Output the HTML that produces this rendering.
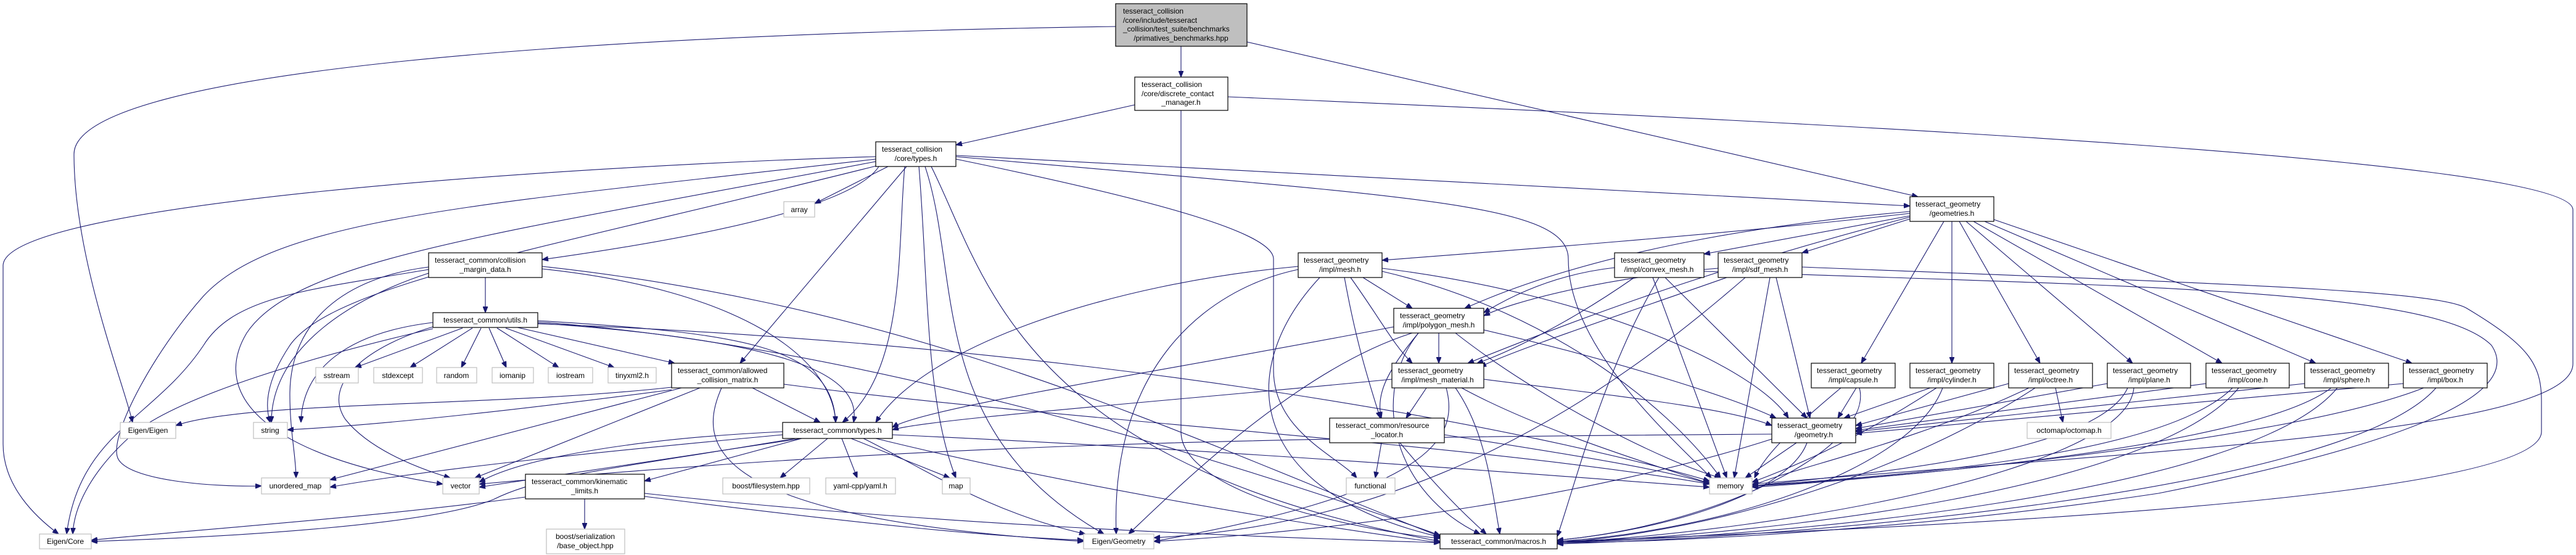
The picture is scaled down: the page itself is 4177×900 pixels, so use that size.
<!DOCTYPE html>
<html><head><meta charset="utf-8"><style>
html,body{margin:0;padding:0;background:#fff;}
svg{display:block;}
text{font-family:"Liberation Sans",Arial,sans-serif;font-size:12px;fill:#000;}
.e{fill:none;stroke:#191970;stroke-width:1.1;marker-end:url(#a);}
.n{fill:#fff;stroke:#000;stroke-width:1.2;}
.g{fill:#fff;stroke:#bfbfbf;stroke-width:1.2;}
</style></head><body>
<svg width="4177" height="900" viewBox="0 0 4177 900" xmlns="http://www.w3.org/2000/svg">
<defs><marker id="a" markerWidth="10" markerHeight="8" refX="10" refY="4" orient="auto" markerUnits="userSpaceOnUse"><path d="M0,0 L10,4 L0,8 z" fill="#191970" stroke="#191970"/></marker></defs>
<g>
<path class="e" d="M1915,75 L1915,125"/>
<path class="e" d="M1809,43 C1000,55 120,110 120,250 C120,420 200,620 215,685"/>
<path class="e" d="M2022,68 L3110,319"/>
<path class="e" d="M1840,170 L1550,235"/>
<path class="e" d="M1915,179 L1915,700 C1915,800 2200,860 2335,873"/>
<path class="e" d="M1991,157 C3000,200 4172,260 4172,340 L4172,590 C4172,700 3500,730 2841,785"/>
<path class="e" d="M1440,270 L1321,330"/>
<path class="e" d="M1425,270 C1380,340 1100,390 879,421"/>
<path class="e" d="M1420,254 C900,270 10,330 5,430 L5,720 C5,790 60,840 95,866"/>
<path class="e" d="M1420,258 C800,330 450,350 330,480 C250,570 180,700 190,740 C200,780 350,790 424,788"/>
<path class="e" d="M1420,262 C800,380 480,420 400,540 C340,640 430,740 718,785"/>
<path class="e" d="M1425,268 C900,400 540,460 470,560 C430,620 430,660 438,685"/>
<path class="e" d="M1470,270 L1200,589"/>
<path class="e" d="M1467,270 C1455,400 1470,600 1366,685"/>
<path class="e" d="M1490,270 C1505,450 1500,650 1550,775"/>
<path class="e" d="M1500,270 C1560,450 1500,700 1790,866"/>
<path class="e" d="M1510,270 C1600,450 1650,750 2335,878"/>
<path class="e" d="M1550,258 C1900,330 2065,380 2065,420 L2065,600 C2065,700 2170,740 2200,775"/>
<path class="e" d="M1550,254 C2300,320 2543,330 2543,420 C2543,560 2700,700 2775,775"/>
<path class="e" d="M1550,252 L3097,334"/>
<path class="e" d="M787,450 L787,507"/>
<path class="e" d="M695,443 C580,480 440,560 440,685"/>
<path class="e" d="M695,433 C560,450 470,520 470,640 C470,700 480,740 480,775"/>
<path class="e" d="M695,437 C500,470 380,480 330,560 C250,680 130,700 108,866"/>
<path class="e" d="M879,436 C1200,470 1350,580 1355,685"/>
<path class="e" d="M879,432 C1500,500 1900,700 2335,870"/>
<path class="e" d="M750,532 L576,596"/>
<path class="e" d="M766,532 L665,596"/>
<path class="e" d="M780,532 L748,596"/>
<path class="e" d="M793,532 L821,596"/>
<path class="e" d="M806,532 L906,596"/>
<path class="e" d="M820,532 L996,596"/>
<path class="e" d="M839,531 L1094,589"/>
<path class="e" d="M872,520 C1200,540 1350,560 1355,685"/>
<path class="e" d="M872,524 C1250,550 1400,600 1384,685"/>
<path class="e" d="M702,523 C560,540 490,600 488,685"/>
<path class="e" d="M702,530 C600,560 520,620 560,680 C600,730 680,760 730,775"/>
<path class="e" d="M702,533 C500,580 300,640 220,700 C150,760 120,820 118,866"/>
<path class="e" d="M872,522 C1400,560 2000,750 2335,868"/>
<path class="e" d="M872,525 C1800,560 2500,700 2772,780"/>
<path class="e" d="M1089,628 C800,660 400,650 285,690"/>
<path class="e" d="M1089,632 C800,670 600,690 466,697"/>
<path class="e" d="M1105,629 L535,778"/>
<path class="e" d="M1135,629 L770,775"/>
<path class="e" d="M1220,629 L1330,685"/>
<path class="e" d="M1170,629 C1130,720 1140,840 1757,878"/>
<path class="e" d="M1271,623 C1700,680 2400,720 2772,785"/>
<path class="e" d="M1269,705 C1000,730 700,760 535,790"/>
<path class="e" d="M1269,700 C1050,710 850,740 777,782"/>
<path class="e" d="M1300,711 L777,790"/>
<path class="e" d="M1300,711 L1045,780"/>
<path class="e" d="M1342,711 L1265,775"/>
<path class="e" d="M1365,711 L1390,775"/>
<path class="e" d="M1380,711 L1540,775"/>
<path class="e" d="M1447,705 C2000,730 2500,770 2772,790"/>
<path class="e" d="M1400,711 C1500,760 1600,830 1760,866"/>
<path class="e" d="M1420,711 C1700,780 2100,850 2335,880"/>
<path class="e" d="M1290,711 C1000,760 880,770 800,810 C700,850 400,870 148,878"/>
<path class="e" d="M948,809 L948,858"/>
<path class="e" d="M852,806 C600,840 300,860 148,876"/>
<path class="e" d="M1045,800 C1500,850 2000,870 2335,880"/>
<path class="e" d="M1045,805 C1400,850 1600,870 1757,876"/>
<path class="e" d="M2210,450 L2290,500"/>
<path class="e" d="M2190,450 C2240,520 2260,560 2290,589"/>
<path class="e" d="M2180,450 C2200,560 2220,620 2238,678"/>
<path class="e" d="M2105,432 C1800,460 1500,560 1420,685"/>
<path class="e" d="M2105,437 C1950,470 1800,600 1810,866"/>
<path class="e" d="M2140,450 C2000,600 2020,800 2340,872"/>
<path class="e" d="M2241,440 C2500,500 2700,650 2790,775"/>
<path class="e" d="M2241,435 C2600,480 2850,600 2900,678"/>
<path class="e" d="M2333,540 L2333,589"/>
<path class="e" d="M2300,540 C2250,600 2230,640 2240,678"/>
<path class="e" d="M2260,530 C1900,600 1500,660 1447,693"/>
<path class="e" d="M2290,540 C2100,600 1900,800 1830,866"/>
<path class="e" d="M2300,540 C2220,640 2260,800 2400,866"/>
<path class="e" d="M2360,540 C2500,650 2700,750 2790,775"/>
<path class="e" d="M2406,535 C2600,580 2800,640 2880,678"/>
<path class="e" d="M2313,629 L2280,678"/>
<path class="e" d="M2257,615 C1900,650 1500,680 1447,697"/>
<path class="e" d="M2345,629 C2370,720 2300,800 1871,878"/>
<path class="e" d="M2360,629 C2410,700 2420,800 2432,866"/>
<path class="e" d="M2370,629 C2500,700 2700,760 2775,785"/>
<path class="e" d="M2406,615 C2600,640 2800,660 2873,690"/>
<path class="e" d="M2240,718 L2230,775"/>
<path class="e" d="M2270,718 C2330,790 2370,830 2410,866"/>
<path class="e" d="M2342,705 C2500,730 2700,760 2772,785"/>
<path class="e" d="M2618,434 C2520,445 2450,480 2406,507"/>
<path class="e" d="M2650,450 C2550,520 2450,570 2395,589"/>
<path class="e" d="M2700,450 L2930,678"/>
<path class="e" d="M2680,450 L2800,775"/>
<path class="e" d="M2690,450 C2600,600 2550,800 2525,870"/>
<path class="e" d="M2786,435 C2600,450 2450,490 2406,512"/>
<path class="e" d="M2800,450 C2600,520 2450,570 2400,595"/>
<path class="e" d="M2880,450 L2935,678"/>
<path class="e" d="M2870,450 L2812,775"/>
<path class="e" d="M2830,450 C2600,650 2300,850 1871,872"/>
<path class="e" d="M2922,433 C3600,460 3950,470 4000,500 C4100,560 4121,590 4121,650 L4121,700 C4121,800 3300,850 2525,878"/>
<path class="e" d="M2763,440 C3500,465 3950,470 4040,560 C4080,620 4000,700 3500,800 C3100,860 2700,880 2525,880"/>
<path class="e" d="M3097,346 C2800,380 2400,410 2241,422"/>
<path class="e" d="M3097,350 L2763,412"/>
<path class="e" d="M3097,355 L2922,410"/>
<path class="e" d="M3097,343 C2900,360 2600,400 2375,500"/>
<path class="e" d="M3097,352 C2800,430 2600,500 2380,589"/>
<path class="e" d="M3152,359 L3018,589"/>
<path class="e" d="M3165,359 L3165,589"/>
<path class="e" d="M3177,359 L3308,589"/>
<path class="e" d="M3188,359 L3458,589"/>
<path class="e" d="M3200,359 L3603,589"/>
<path class="e" d="M3218,359 L3755,589"/>
<path class="e" d="M3233,356 L3911,589"/>
<path class="e" d="M3010,629 L2980,678"/>
<path class="e" d="M2985,629 C2900,700 2860,740 2845,775"/>
<path class="e" d="M3015,629 C3040,720 2800,850 2525,876"/>
<path class="e" d="M3130,629 L2990,678"/>
<path class="e" d="M3140,629 C3000,720 2900,760 2841,782"/>
<path class="e" d="M3150,629 C3100,760 2800,860 2525,878"/>
<path class="e" d="M3257,622 L3009,690"/>
<path class="e" d="M3290,629 C3100,720 2900,760 2841,788"/>
<path class="e" d="M3300,629 C3100,760 2800,860 2525,880"/>
<path class="e" d="M3333,629 L3345,685"/>
<path class="e" d="M3417,622 L3009,695"/>
<path class="e" d="M3450,629 C3400,740 3000,770 2841,788"/>
<path class="e" d="M3460,629 C3450,760 2900,860 2525,880"/>
<path class="e" d="M3577,622 L3009,698"/>
<path class="e" d="M3620,629 C3500,750 3000,775 2841,788"/>
<path class="e" d="M3630,629 C3500,790 2900,865 2525,880"/>
<path class="e" d="M3737,622 L3009,700"/>
<path class="e" d="M3780,629 C3650,730 3000,780 2841,788"/>
<path class="e" d="M3790,629 C3650,800 2900,870 2525,880"/>
<path class="e" d="M3897,622 L3009,703"/>
<path class="e" d="M3930,629 C3700,720 3000,780 2841,790"/>
<path class="e" d="M3950,629 C3800,800 2900,872 2525,882"/>
<path class="e" d="M2913,718 L2830,775"/>
<path class="e" d="M2930,718 C2900,800 2700,860 2525,876"/>
<path class="e" d="M2873,704 C2000,710 1500,720 777,785"/>
<path class="e" d="M2873,712 C2600,800 2200,860 1871,878"/>
</g>
<g>
<rect x="1809" y="6" width="213" height="69" fill="#bfbfbf" stroke="#000" stroke-width="1.2"/>
<text x="1821" y="22">tesseract_collision</text>
<text x="1821" y="37">/core/include/tesseract</text>
<text x="1821" y="51">_collision/test_suite/benchmarks</text>
<text x="1915" y="66" text-anchor="middle">/primatives_benchmarks.hpp</text>

<rect class="n" x="1840" y="125" width="151" height="54"/>
<text x="1851" y="141">tesseract_collision</text>
<text x="1851" y="156">/core/discrete_contact</text>
<text x="1915" y="170" text-anchor="middle">_manager.h</text>

<rect class="n" x="1420" y="230" width="130" height="40"/>
<text x="1430" y="246">tesseract_collision</text>
<text x="1485" y="261" text-anchor="middle">/core/types.h</text>

<rect class="n" x="695" y="410" width="184" height="40"/>
<text x="705" y="426">tesseract_common/collision</text>
<text x="787" y="441" text-anchor="middle">_margin_data.h</text>

<rect class="n" x="702" y="507" width="170" height="24"/>
<text x="787" y="523" text-anchor="middle">tesseract_common/utils.h</text>

<rect class="n" x="1089" y="589" width="182" height="40"/>
<text x="1099" y="605">tesseract_common/allowed</text>
<text x="1180" y="620" text-anchor="middle">_collision_matrix.h</text>

<rect class="n" x="1269" y="685" width="178" height="26"/>
<text x="1358" y="702" text-anchor="middle">tesseract_common/types.h</text>

<rect class="n" x="852" y="769" width="193" height="40"/>
<text x="862" y="785">tesseract_common/kinematic</text>
<text x="948" y="800" text-anchor="middle">_limits.h</text>

<rect class="n" x="2105" y="410" width="136" height="40"/>
<text x="2114" y="426">tesseract_geometry</text>
<text x="2173" y="441" text-anchor="middle">/impl/mesh.h</text>

<rect class="n" x="2618" y="410" width="145" height="40"/>
<text x="2628" y="426">tesseract_geometry</text>
<text x="2690" y="441" text-anchor="middle">/impl/convex_mesh.h</text>

<rect class="n" x="2786" y="410" width="136" height="40"/>
<text x="2795" y="426">tesseract_geometry</text>
<text x="2854" y="441" text-anchor="middle">/impl/sdf_mesh.h</text>

<rect class="n" x="2260" y="500" width="146" height="40"/>
<text x="2270" y="516">tesseract_geometry</text>
<text x="2333" y="531" text-anchor="middle">/impl/polygon_mesh.h</text>

<rect class="n" x="2257" y="589" width="149" height="40"/>
<text x="2267" y="605">tesseract_geometry</text>
<text x="2331" y="620" text-anchor="middle">/impl/mesh_material.h</text>

<rect class="n" x="2156" y="678" width="186" height="40"/>
<text x="2166" y="694">tesseract_common/resource</text>
<text x="2249" y="709" text-anchor="middle">_locator.h</text>

<rect class="n" x="3097" y="319" width="136" height="40"/>
<text x="3106" y="335">tesseract_geometry</text>
<text x="3165" y="350" text-anchor="middle">/geometries.h</text>

<rect class="n" x="2937" y="589" width="136" height="40"/>
<text x="2946" y="605">tesseract_geometry</text>
<text x="3005" y="620" text-anchor="middle">/impl/capsule.h</text>
<rect class="n" x="3097" y="589" width="136" height="40"/>
<text x="3106" y="605">tesseract_geometry</text>
<text x="3165" y="620" text-anchor="middle">/impl/cylinder.h</text>
<rect class="n" x="3257" y="589" width="136" height="40"/>
<text x="3266" y="605">tesseract_geometry</text>
<text x="3325" y="620" text-anchor="middle">/impl/octree.h</text>
<rect class="n" x="3417" y="589" width="135" height="40"/>
<text x="3426" y="605">tesseract_geometry</text>
<text x="3485" y="620" text-anchor="middle">/impl/plane.h</text>
<rect class="n" x="3577" y="589" width="135" height="40"/>
<text x="3586" y="605">tesseract_geometry</text>
<text x="3645" y="620" text-anchor="middle">/impl/cone.h</text>
<rect class="n" x="3737" y="589" width="136" height="40"/>
<text x="3746" y="605">tesseract_geometry</text>
<text x="3805" y="620" text-anchor="middle">/impl/sphere.h</text>
<rect class="n" x="3897" y="589" width="136" height="40"/>
<text x="3906" y="605">tesseract_geometry</text>
<text x="3965" y="620" text-anchor="middle">/impl/box.h</text>

<rect class="n" x="2873" y="678" width="136" height="40"/>
<text x="2882" y="694">tesseract_geometry</text>
<text x="2941" y="709" text-anchor="middle">/geometry.h</text>

<rect class="n" x="2335" y="866" width="190" height="24"/>
<text x="2430" y="882" text-anchor="middle">tesseract_common/macros.h</text>

<rect class="g" x="1271" y="327" width="50" height="25"/><text x="1296" y="344" text-anchor="middle">array</text>
<rect class="g" x="512" y="596" width="69" height="25"/><text x="546" y="613" text-anchor="middle">sstream</text>
<rect class="g" x="606" y="596" width="79" height="25"/><text x="645" y="613" text-anchor="middle">stdexcept</text>
<rect class="g" x="708" y="596" width="65" height="25"/><text x="740" y="613" text-anchor="middle">random</text>
<rect class="g" x="798" y="596" width="67" height="25"/><text x="831" y="613" text-anchor="middle">iomanip</text>
<rect class="g" x="889" y="596" width="72" height="25"/><text x="925" y="613" text-anchor="middle">iostream</text>
<rect class="g" x="986" y="596" width="78" height="25"/><text x="1025" y="613" text-anchor="middle">tinyxml2.h</text>
<rect class="g" x="195" y="685" width="90" height="26"/><text x="240" y="702" text-anchor="middle">Eigen/Eigen</text>
<rect class="g" x="411" y="685" width="55" height="26"/><text x="438" y="702" text-anchor="middle">string</text>
<rect class="g" x="424" y="775" width="111" height="26"/><text x="479" y="792" text-anchor="middle">unordered_map</text>
<rect class="g" x="718" y="775" width="59" height="26"/><text x="747" y="792" text-anchor="middle">vector</text>
<rect class="g" x="1172" y="775" width="141" height="26"/><text x="1242" y="792" text-anchor="middle">boost/filesystem.hpp</text>
<rect class="g" x="1339" y="775" width="113" height="26"/><text x="1395" y="792" text-anchor="middle">yaml-cpp/yaml.h</text>
<rect class="g" x="1528" y="775" width="45" height="26"/><text x="1550" y="792" text-anchor="middle">map</text>
<rect class="g" x="2183" y="775" width="79" height="26"/><text x="2222" y="792" text-anchor="middle">functional</text>
<rect class="g" x="2772" y="775" width="69" height="26"/><text x="2806" y="792" text-anchor="middle">memory</text>
<rect class="g" x="3287" y="685" width="136" height="26"/><text x="3355" y="702" text-anchor="middle">octomap/octomap.h</text>
<rect class="g" x="886" y="858" width="127" height="40"/>
<text x="949" y="874" text-anchor="middle">boost/serialization</text>
<text x="949" y="889" text-anchor="middle">/base_object.hpp</text>
<rect class="g" x="64" y="866" width="84" height="24"/><text x="106" y="882" text-anchor="middle">Eigen/Core</text>
<rect class="g" x="1757" y="866" width="114" height="24"/><text x="1814" y="882" text-anchor="middle">Eigen/Geometry</text>
</g>
</svg>
</body></html>
